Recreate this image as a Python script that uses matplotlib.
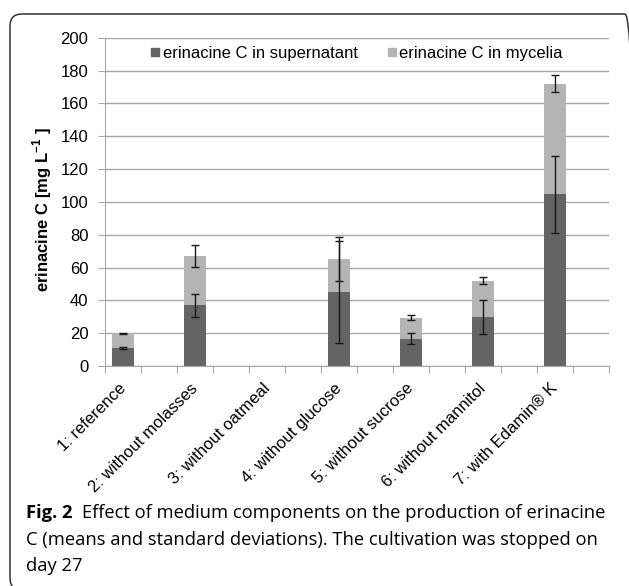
import matplotlib
matplotlib.use('Agg')
import matplotlib.pyplot as plt
import matplotlib.transforms as mtransforms
import numpy as np
from matplotlib.patches import FancyBboxPatch
from matplotlib.lines import Line2D

plt.rcParams['font.family'] = ['Liberation Sans', 'DejaVu Sans']

groups = ['1: reference', '2: without molasses', '3: without oatmeal', '4: without glucose',
          '5: without sucrose', '6: without mannitol', '7: with Edamin® K']
slots = [0, 2, 4, 6, 8, 10, 12]
supernatant = [11, 37, np.nan, 45, 16.5, 30, 104.5]
supernatant_sd = [0.4, 7, np.nan, 31, 3.3, 10.3, 23.3]
mycelia = [9, 30, np.nan, 20, 13, 22, 67.5]
total_sd = [0.4, 6.7, np.nan, 13.3, 1.5, 2.3, 5]

dark = '#646464'
light = '#b4b4b4'

fig = plt.figure(figsize=(6.29, 5.86), dpi=100)
ax = fig.add_axes([105 / 629, 1 - 366 / 586, 504 / 629, (366 - 37.7) / 586])

x = np.array(slots, dtype=float)
sup = np.array(supernatant)
myc = np.array(mycelia)
tot = sup + myc

ax.bar(x, sup, width=0.6, color=dark, zorder=2)
ax.bar(x, myc, bottom=sup, width=0.6, color=light, zorder=2)
ax.errorbar(x, sup, yerr=supernatant_sd, fmt='none', ecolor='#1a1a1a',
            elinewidth=1, capsize=3, capthick=1, zorder=3)
ax.errorbar(x, tot, yerr=total_sd, fmt='none', ecolor='#1a1a1a',
            elinewidth=1, capsize=3, capthick=1, zorder=3)

ax.set_xlim(-0.5, 13.5)
ax.set_ylim(0, 200)
ax.set_yticks(range(0, 201, 20))
ax.yaxis.grid(True, color='#a8a8a8', linewidth=1)
ax.set_axisbelow(True)
for s in ['top', 'right']:
    ax.spines[s].set_visible(False)
ax.spines['left'].set_color('#a8a8a8')
ax.spines['bottom'].set_color('#a8a8a8')

ax.set_xticks(np.arange(-0.5, 14, 1))
ax.set_xticklabels([])
ax.tick_params(axis='x', which='major', length=5, color='#a8a8a8')
ax.set_xticks(x, minor=True)
ax.set_xticklabels(groups, minor=True, rotation=45, ha='right', va='top',
                   rotation_mode='anchor', fontsize=12)
ax.tick_params(axis='x', which='minor', length=0, pad=7)
shift = mtransforms.ScaledTranslation(-0.05, -0.05, fig.dpi_scale_trans)
for lbl in ax.xaxis.get_minorticklabels():
    lbl.set_transform(lbl.get_transform() + shift)
ax.tick_params(axis='y', length=5, color='#a8a8a8', labelsize=12, pad=7)

ax.set_ylabel('erinacine C [mg L$^{\\mathregular{-1}}$ ]', fontsize=12,
              fontweight='bold')
ax.yaxis.set_label_coords((54 - 105) / 504, (366 - 210) / 328.3)

handles = [Line2D([], [], marker='s', linestyle='none', markersize=6, color=dark),
           Line2D([], [], marker='s', linestyle='none', markersize=6, color=light)]
ax.legend(handles, ['erinacine C in supernatant', 'erinacine C in mycelia'],
          loc='upper center', bbox_to_anchor=(0.5, 0.995), ncol=2, frameon=False,
          fontsize=12, handlelength=0.5, handletextpad=0.2, columnspacing=1.8,
          borderaxespad=0)

frame = FancyBboxPatch((0.10, -0.04), 6.27, 5.76,
                       boxstyle='round,pad=0,rounding_size=0.12',
                       transform=fig.dpi_scale_trans, facecolor='none',
                       edgecolor='#333333', linewidth=1.1, clip_on=False)
fig.add_artist(frame)

cap_font = ['Open Sans', 'DejaVu Sans']
cap_size = 13.2
fig.canvas.draw()
renderer = fig.canvas.get_renderer()
bold = fig.text(26 / 629, 1 - 518 / 586, 'Fig. 2', fontsize=cap_size, fontweight='bold',
                family=cap_font, va='baseline')
bb = bold.get_window_extent(renderer)
fig.text((bb.x1 + 9) / 629, 1 - 518 / 586,
         'Effect of medium components on the production of erinacine',
         fontsize=cap_size, family=cap_font, va='baseline')
fig.text(26 / 629, 1 - 545 / 586,
         'C (means and standard deviations). The cultivation was stopped on',
         fontsize=cap_size, family=cap_font, va='baseline')
fig.text(26 / 629, 1 - 571 / 586, 'day 27', fontsize=cap_size, family=cap_font,
         va='baseline')

fig.savefig('out.png', dpi=100)
